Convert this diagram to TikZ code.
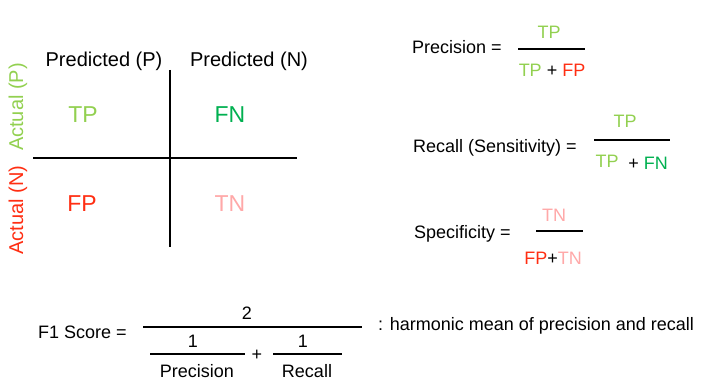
\documentclass[tikz,border=0pt]{standalone}
\usepackage{fontspec}
\setmainfont{Liberation Sans}
\usepackage{tikz}
\usetikzlibrary
  {
    positioning,              % place nodes relative to other nodes
    calc,
  }

\definecolor{tpgreen}{HTML}{92D050}
\definecolor{fngreen}{HTML}{00B050}
\definecolor{fpred}{HTML}{FF2E12}
\definecolor{tnpink}{HTML}{FFA8A8}

\tikzset{
  txt/.style={inner sep=0pt, anchor=base, font=\fontsize{18}{20}\selectfont},
  head/.style={txt, font=\fontsize{20}{22}\selectfont},
  cell/.style={txt, font=\fontsize{23}{25}\selectfont},
  grid/.style={line width=2pt},
  bar/.style={line width=1.3pt},
}

\begin{document}
\begin{tikzpicture}[x=1pt, y=-1pt]
    \useasboundingbox (0,0) rectangle (722,385);

    % confusion matrix
    \draw[grid] (170,70) -- (170,247);
    \draw[grid] (33,158) -- (297,158);

    \node[head] (predP) at (104,67) {Predicted (P)};
    \node[head] (predN) at (249,67) {Predicted (N)};
    \node[head, rotate=90, text=tpgreen] (actP) at (23,107) {Actual (P)};
    \node[head, rotate=90, text=fpred] (actN) at (23,210) {Actual (N)};

    \node[cell, text=tpgreen] (tp) at (83,122) {TP};
    \node[cell, text=fngreen] (fn) at (230,122) {FN};
    \node[cell, text=fpred] (fp) at (82,211) {FP};
    \node[cell, text=tnpink] (tn) at (230,211) {TN};

    % precision
    \node[txt, anchor=base west] (prec) at (412,54) {Precision =};
    \draw[bar] (518,49) -- (585,49);
    \node[txt, text=tpgreen] (precnum) at (549,39) {TP};
    \node[txt] (precden) at (552,77) {\textcolor{tpgreen}{TP} + \textcolor{fpred}{FP}};

    % recall
    \node[txt, anchor=base west] (rec) at (413,152) {Recall (Sensitivity) =};
    \draw[bar] (594,140) -- (670,140);
    \node[txt, text=tpgreen] (recnum) at (625,128) {TP};
    \node[txt, text=tpgreen] (recden) at (607,167) {TP};
    \node[txt] (recfn) at (648,169) {+ \textcolor{fngreen}{FN}};

    % specificity
    \node[txt, anchor=base west] (spec) at (414,238) {Specificity =};
    \draw[bar] (536,231) -- (583,231);
    \node[txt, text=tnpink] (specnum) at (554,221) {TN};
    \node[txt] (specden) at (553,264) {\textcolor{fpred}{FP}+\textcolor{tnpink}{TN}};

    % F1 score
    \node[txt, anchor=base west] (fone) at (38,338) {F1 Score =};
    \draw[bar] (143,327) -- (362,327);
    \node[txt] (two) at (247,319) {2};
    \node[txt] (oneP) at (193,347) {1};
    \draw[bar] (150,354) -- (245,354);
    \node[txt] (plus) at (257,360) {+};
    \node[txt] (oneR) at (303,347) {1};
    \draw[bar] (273,354) -- (342,354);
    \node[txt] (precbot) at (197,377) {Precision};
    \node[txt] (recbot) at (307,377) {Recall};
    \node[txt, anchor=base west] (harm) at (378,330) {: harmonic mean of precision and recall};
\end{tikzpicture}
\end{document}
